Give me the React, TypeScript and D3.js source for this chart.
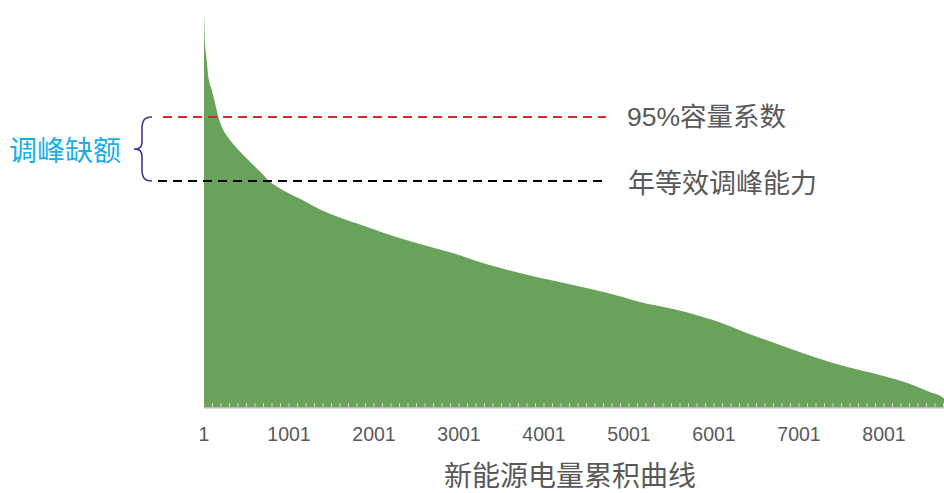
import React from "react";
import * as d3 from "d3";

// Annual new-energy generation duration curve (hours sorted by output, 8760 h)
const hours = [1, 13, 33, 52, 92, 130, 169, 228, 307, 425, 542, 660, 777, 930, 1130, 1330, 1520, 1920, 2300, 2700, 3000, 3170, 3570, 3950, 4340, 4740, 5130, 5520, 5840, 5990, 6390, 6780, 7170, 7570, 7950, 8340, 8540, 8700, 8760];
const output = [100, 92.0, 87.8, 83.6, 80.3, 77.0, 73.5, 70.1, 67.6, 64.6, 62.1, 59.6, 57.0, 54.9, 52.7, 50.4, 48.6, 45.6, 42.8, 40.3, 38.5, 37.2, 34.7, 32.7, 30.9, 28.9, 26.6, 24.8, 23.0, 22.0, 18.7, 15.7, 12.7, 10.1, 8.1, 5.6, 3.8, 2.3, 1.0];

// Reference levels (same units as output)
const capacity95 = 73.4;
const peakShaving = 57.2;

const tickLabels = [1, 1001, 2001, 3001, 4001, 5001, 6001, 7001, 8001];
const minorTicks = d3.range(101, 8760, 100);

const W = 944;
const H = 493;
const CJK = "'Noto Sans CJK SC', 'Noto Sans', sans-serif";
const NUM = "'Liberation Sans', Arial, 'Noto Sans CJK SC', sans-serif";

export default function App() {
  const x = d3.scaleLinear().domain([1, 8760]).range([204, 204 + 8759 * 0.085]);
  const y = d3.scaleLinear().domain([0, 100]).range([407, 12]);

  const pts = hours.map((h, i) => [h, output[i]] as [number, number]);
  const area = d3
    .area<[number, number]>()
    .x((d) => x(d[0]))
    .y0(y(0))
    .y1((d) => y(d[1]))
    .curve(d3.curveMonotoneX);

  const yRed = y(capacity95);
  const yBlack = y(peakShaving);
  const yMid = (yRed + yBlack) / 2;

  // curly brace between the two reference levels
  const bx = 152;
  const tip = 134;
  const brace = `M ${bx} ${yRed} C ${bx - 8} ${yRed} ${bx - 10} ${yRed + 4} ${bx - 10} ${yRed + 12}
    L ${bx - 10} ${yMid - 8} C ${bx - 10} ${yMid - 2} ${tip + 6} ${yMid} ${tip} ${yMid}
    C ${tip + 6} ${yMid} ${bx - 10} ${yMid + 2} ${bx - 10} ${yMid + 8}
    L ${bx - 10} ${yBlack - 12} C ${bx - 10} ${yBlack - 4} ${bx - 8} ${yBlack} ${bx} ${yBlack}`;

  return (
    <svg
      width={W}
      height={H}
      viewBox={`0 0 ${W} ${H}`}
      style={{ position: "absolute", left: 0, top: 0, background: "#ffffff" }}
    >
      <path d={area(pts) ?? ""} fill="#69a25a" />

      {/* axis */}
      {minorTicks.map((t) => (
        <line key={t} x1={x(t)} x2={x(t)} y1={403} y2={407.5} stroke="#cfcfcf" strokeWidth={1} />
      ))}
      <line x1={204} x2={W} y1={407.8} y2={407.8} stroke="#bdbdbd" strokeWidth={1.6} />
      {tickLabels.map((t) => (
        <text
          key={t}
          x={x(t)}
          y={441}
          textAnchor="middle"
          fontFamily={NUM}
          fontSize={19.5}
          fill="#595959"
        >
          {t}
        </text>
      ))}
      <text x={570} y={486} textAnchor="middle" fontFamily={CJK} fontSize={28} fill="#595959">
        新能源电量累积曲线
      </text>

      {/* reference lines */}
      <line x1={163} x2={606} y1={yRed} y2={yRed} stroke="#cc2f2a" strokeWidth={2} strokeDasharray="9 6" />
      <line x1={158} x2={608} y1={yBlack} y2={yBlack} stroke="#000000" strokeWidth={2} strokeDasharray="9 6" />
      <text x={627} y={yRed} dominantBaseline="central" fontFamily={NUM} fontSize={26.5} fill="#595959">
        95%容量系数
      </text>
      <text x={628} y={yBlack} dominantBaseline="central" fontFamily={CJK} fontSize={27} fill="#595959">
        年等效调峰能力
      </text>

      {/* gap annotation */}
      <path d={brace} fill="none" stroke="#3c3c8c" strokeWidth={1.6} />
      <text x={9} y={yMid} dominantBaseline="central" fontFamily={CJK} fontSize={28} fill="#1aaee6">
        调峰缺额
      </text>
    </svg>
  );
}
